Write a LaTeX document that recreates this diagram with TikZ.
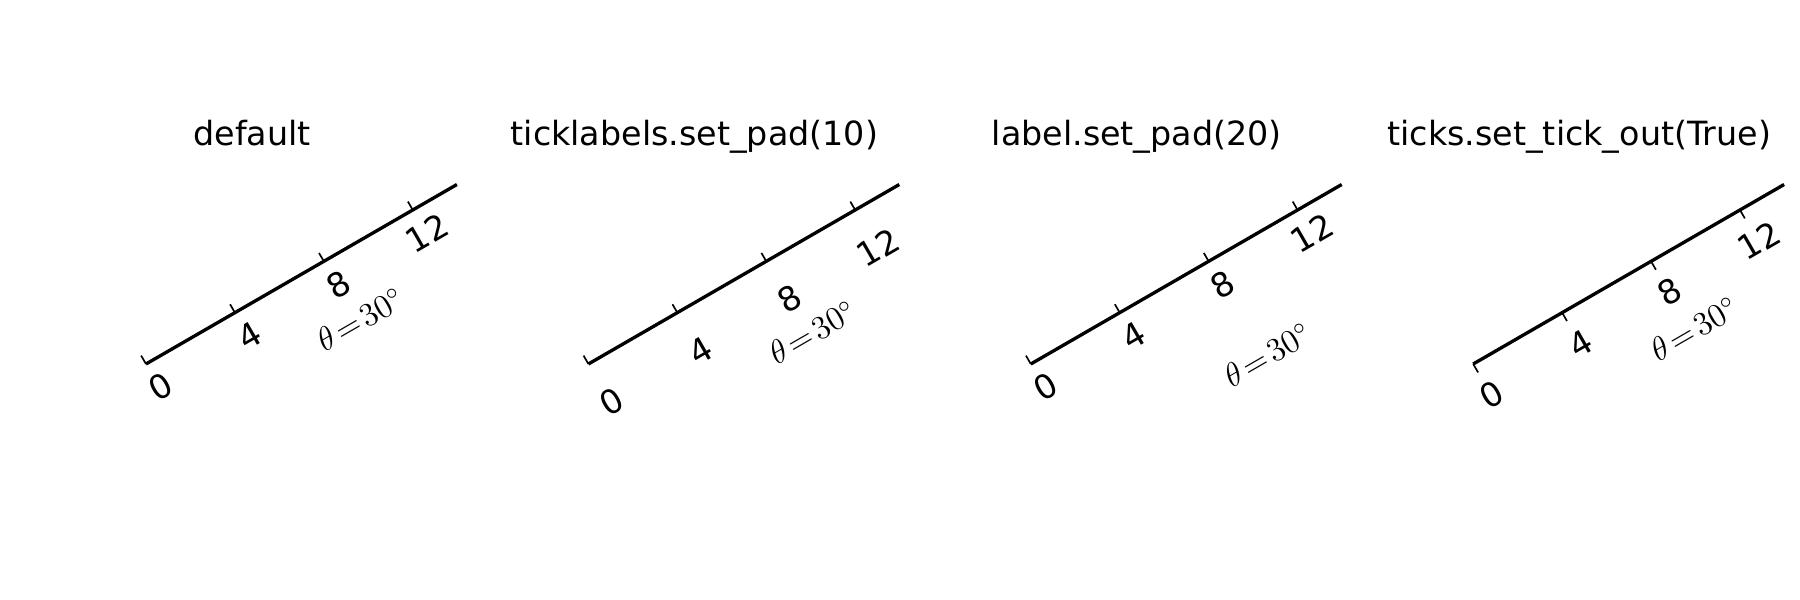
\documentclass[tikz,border=0pt]{standalone}
\usepackage[no-math]{fontspec}
\newfontfamily\dv{DejaVu Sans}
\begin{document}
\begin{tikzpicture}[x=0.36pt,y=-0.36pt,
  axisline/.style={line width=1.2pt},
  tickmark/.style={line width=0.6pt},
  ticklab/.style={font=\dv\fontsize{12}{14}\selectfont, rotate=30, inner sep=0pt},
  axlab/.style={font=\fontsize{12}{14}\selectfont, rotate=30, inner sep=0pt},
  ttl/.style={font=\dv\fontsize{12}{14}\selectfont, anchor=base, inner sep=0pt}]
\useasboundingbox (0,0) rectangle (1800,600);
\foreach \i/\sx/\tt/\lp/\ta/\tp/\td in {
  1/146/default/27/208/68/-1,
  2/588.4/ticklabels.set\_pad(10)/44/210/84/-1,
  3/1030.8/label.set\_pad(20)/27/209.5/110/-1,
  4/1473.2/ticks.set\_tick\_out(True)/36/209/79.5/1}{
  \node[ttl] (title\i) at (\sx+106,146) {\tt};
  \begin{scope}[shift={(\sx,364)}, x={(0.31177pt,0.18pt)}, y={(0.18pt,-0.31177pt)}]
    \coordinate (s\i) at (0,0);
    \coordinate (e\i) at (359,0);
    \draw[axisline] (s\i) -- (e\i);
    \foreach \k in {0,4,8,12}{
      \coordinate (t\i-\k) at ({\k*25.67},0);
      \coordinate (u\i-\k) at ({\k*25.67},{\td*9.7});
      \draw[tickmark] (t\i-\k) -- (u\i-\k);
      \node[ticklab] (l\i-\k) at ({\k*25.67+1},\lp) {\k};
    }
    \node[axlab] (ax\i) at (\ta,\tp) {$\theta\!=\!30^{\circ}$};
  \end{scope}
}
\end{tikzpicture}
\end{document}
